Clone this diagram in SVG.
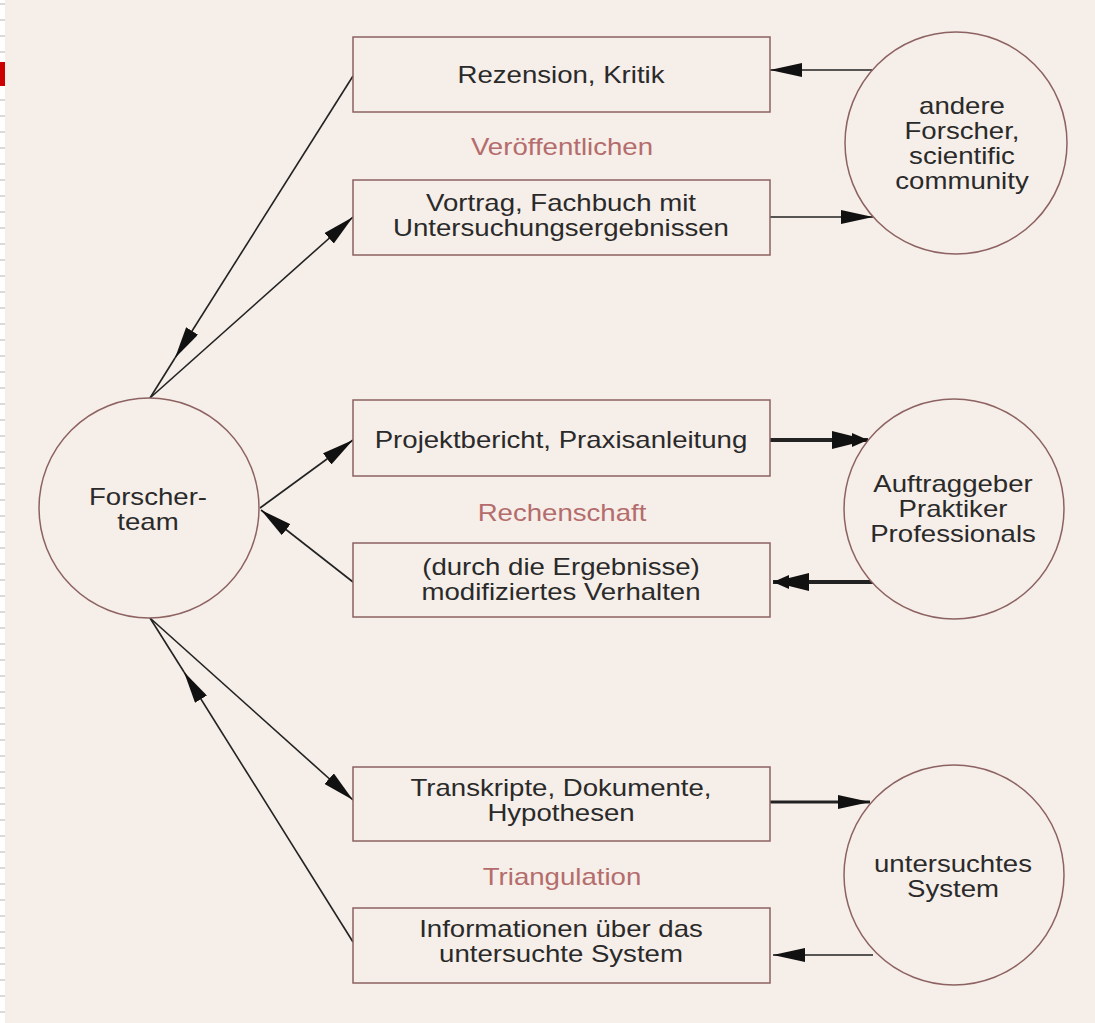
<svg xmlns="http://www.w3.org/2000/svg" width="1095" height="1023" viewBox="0 0 1095 1023">
<defs>
<style>
.bg{fill:#f6eee8}
.box{fill:#f6eee8;stroke:#8c6262;stroke-width:1.5}
.node{fill:#f6eee8;stroke:#8c6262;stroke-width:1.5}
.t{font-family:"Liberation Sans",Arial,sans-serif;font-size:23px;fill:#2a2a2a;text-anchor:middle}
.lbl{font-family:"Liberation Sans",Arial,sans-serif;font-size:23px;fill:#b46c6c;text-anchor:middle}
.c{stroke:#222;stroke-width:1.6;fill:none}
.thick{stroke-width:4}
.mid{stroke-width:3}
</style>
<marker id="ah" viewBox="0 0 32 14" refX="32" refY="7" markerWidth="32" markerHeight="14" markerUnits="userSpaceOnUse" orient="auto">
<path d="M0,0 L32,7 L0,14 Z" fill="#111"/>
</marker>
<marker id="ahb" viewBox="0 0 36 18" refX="36" refY="9" markerWidth="36" markerHeight="18" markerUnits="userSpaceOnUse" orient="auto">
<path d="M0,0 L20,5 L20,2 L36,9 L20,16 L20,13 L0,18 Z" fill="#111"/>
</marker>
<pattern id="dash" width="5" height="16" patternUnits="userSpaceOnUse">
<rect width="5" height="16" fill="#ffffff"/>
<rect y="3" width="5" height="2" fill="#dadada"/>
</pattern>
</defs>
<rect class="bg" width="1095" height="1023"/>
<rect x="0" y="0" width="5" height="1023" fill="url(#dash)"/>
<rect x="0" y="62" width="5" height="24" fill="#cc0000"/>

<g id="connectors">
<line class="c" x1="872" y1="70" x2="770" y2="70" marker-end="url(#ah)"/>
<line class="c" x1="770" y1="217" x2="873" y2="217" marker-end="url(#ah)"/>
<line class="c" x1="353" y1="76" x2="175" y2="358" marker-end="url(#ah)"/>
<line class="c" x1="175" y1="358" x2="150" y2="398"/>
<line class="c" x1="150" y1="398" x2="353" y2="217" marker-end="url(#ah)"/>
<line class="c" x1="260" y1="508" x2="353" y2="440" marker-end="url(#ah)"/>
<line class="c" x1="353" y1="582" x2="261" y2="510" marker-end="url(#ah)"/>
<line class="c thick" x1="770" y1="440" x2="868" y2="440" marker-end="url(#ahb)"/>
<line class="c thick" x1="877" y1="582" x2="773" y2="582" marker-end="url(#ahb)"/>
<line class="c" x1="150" y1="618" x2="353" y2="800" marker-end="url(#ah)"/>
<line class="c" x1="353" y1="942" x2="184" y2="672" marker-end="url(#ah)"/>
<line class="c" x1="184" y1="672" x2="150" y2="618"/>
<line class="c mid" x1="770" y1="802" x2="870" y2="802" marker-end="url(#ah)"/>
<line class="c" x1="873" y1="955" x2="773" y2="955" marker-end="url(#ah)"/>
</g>

<g id="box-rezension">
<rect class="box" x="353" y="37" width="417" height="75"/>
<text class="t" transform="translate(561 83) scale(1.2 1)">Rezension, Kritik</text>
</g>
<g id="label-veroeffentlichen">
<text class="lbl" transform="translate(562 155) scale(1.2 1)">Veröffentlichen</text>
</g>
<g id="box-vortrag">
<rect class="box" x="353" y="180" width="417" height="75"/>
<text class="t" transform="translate(561 211) scale(1.2 1)"><tspan x="0">Vortrag, Fachbuch mit</tspan><tspan x="0" dy="25">Untersuchungsergebnissen</tspan></text>
</g>
<g id="box-projektbericht">
<rect class="box" x="353" y="400" width="417" height="76"/>
<text class="t" transform="translate(561 448) scale(1.2 1)">Projektbericht, Praxisanleitung</text>
</g>
<g id="label-rechenschaft">
<text class="lbl" transform="translate(562 521) scale(1.2 1)">Rechenschaft</text>
</g>
<g id="box-verhalten">
<rect class="box" x="353" y="543" width="417" height="74"/>
<text class="t" transform="translate(561 575) scale(1.2 1)"><tspan x="0">(durch die Ergebnisse)</tspan><tspan x="0" dy="25">modifiziertes Verhalten</tspan></text>
</g>
<g id="box-transkripte">
<rect class="box" x="353" y="767" width="417" height="74"/>
<text class="t" transform="translate(561 796) scale(1.2 1)"><tspan x="0">Transkripte, Dokumente,</tspan><tspan x="0" dy="25">Hypothesen</tspan></text>
</g>
<g id="label-triangulation">
<text class="lbl" transform="translate(562 885) scale(1.2 1)">Triangulation</text>
</g>
<g id="box-informationen">
<rect class="box" x="353" y="908" width="417" height="75"/>
<text class="t" transform="translate(561 937) scale(1.2 1)"><tspan x="0">Informationen über das</tspan><tspan x="0" dy="25">untersuchte System</tspan></text>
</g>

<g id="node-forscherteam">
<circle class="node" cx="149" cy="508" r="110"/>
<text class="t" transform="translate(148 505) scale(1.2 1)"><tspan x="0">Forscher-</tspan><tspan x="0" dy="25">team</tspan></text>
</g>
<g id="node-andere">
<circle class="node" cx="956" cy="143" r="111"/>
<text class="t" transform="translate(962 114) scale(1.2 1)"><tspan x="0">andere</tspan><tspan x="0" dy="25">Forscher,</tspan><tspan x="0" dy="25">scientific</tspan><tspan x="0" dy="25">community</tspan></text>
</g>
<g id="node-auftraggeber">
<circle class="node" cx="954" cy="509" r="110"/>
<text class="t" transform="translate(953 492) scale(1.2 1)"><tspan x="0">Auftraggeber</tspan><tspan x="0" dy="25">Praktiker</tspan><tspan x="0" dy="25">Professionals</tspan></text>
</g>
<g id="node-system">
<circle class="node" cx="954" cy="875" r="110"/>
<text class="t" transform="translate(953 872) scale(1.2 1)"><tspan x="0">untersuchtes</tspan><tspan x="0" dy="25">System</tspan></text>
</g>
</svg>
